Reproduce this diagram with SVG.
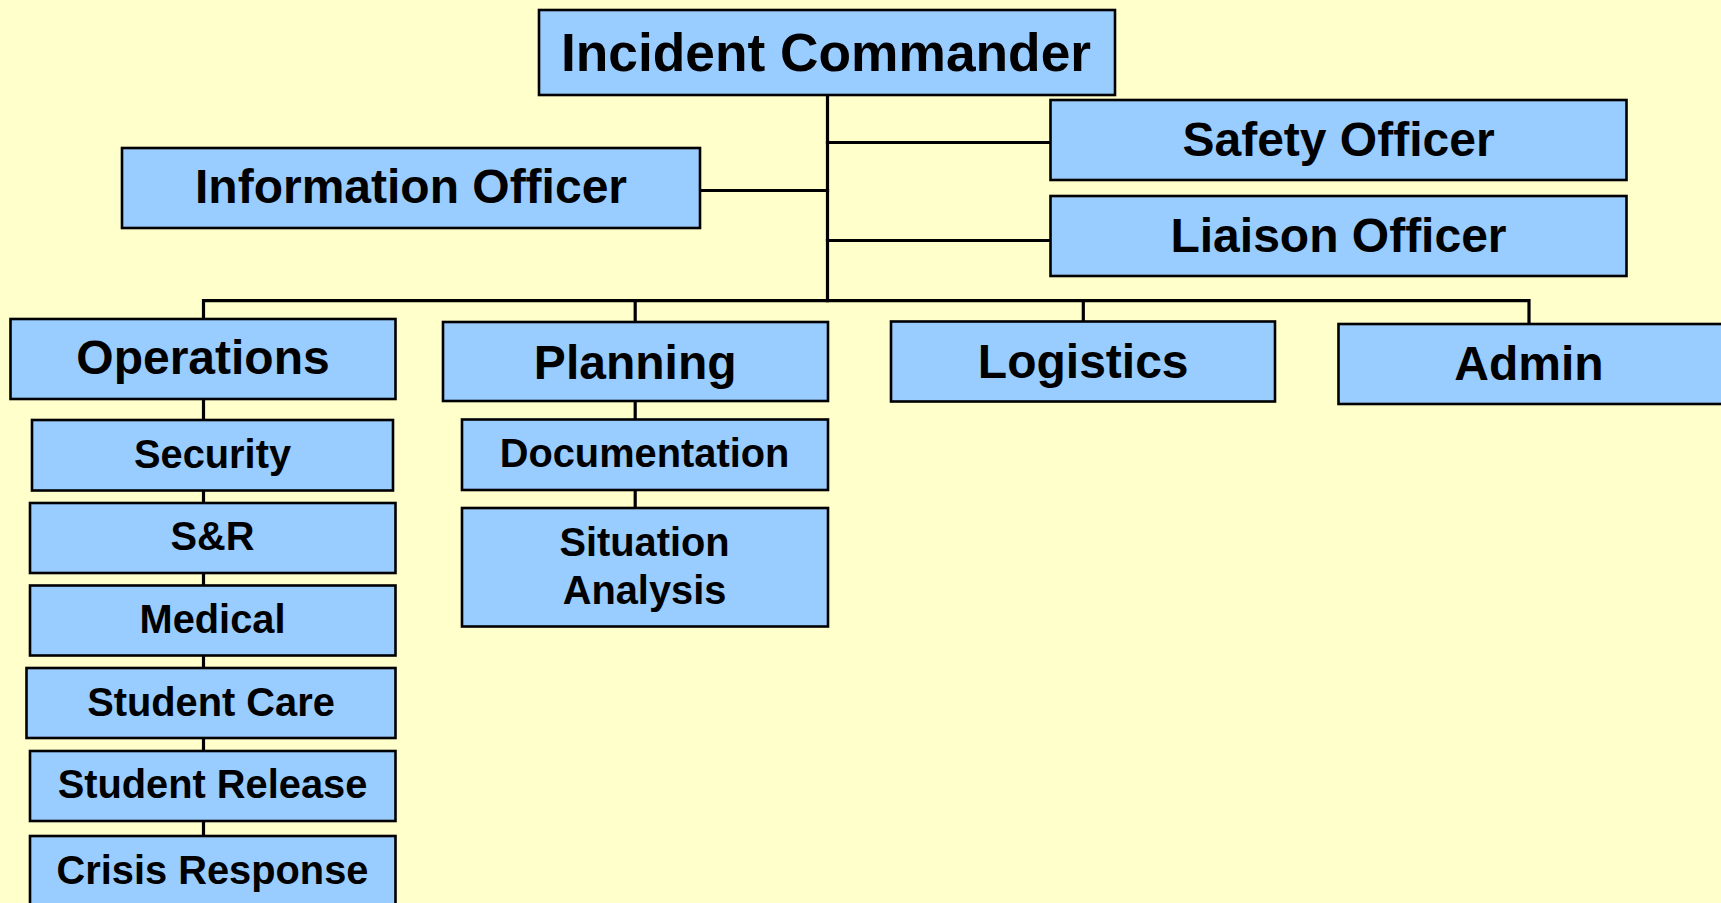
<svg xmlns="http://www.w3.org/2000/svg" width="1721" height="903" viewBox="0 0 1721 903">
<style>
.box{fill:#99CCFF;stroke:#000;stroke-width:2.6}
.ln{stroke:#000;stroke-width:3.2;fill:none;stroke-linecap:square}
text{font-family:"Liberation Sans",Arial,sans-serif;font-weight:bold;fill:#000;text-anchor:middle}
.t1{font-size:53.3px}
.t2{font-size:48px}
.t3{font-size:39.8px}
</style>
<rect width="1721" height="903" fill="#FFFFCC"/>
<g id="connectors">
<path class="ln" d="M827.5 95 V300.7"/>
<path class="ln" d="M827.5 142.5 H1050"/>
<path class="ln" d="M700 190.5 H827.5"/>
<path class="ln" d="M827.5 240.5 H1050"/>
<path class="ln" d="M203.5 319 V300.7 H1529 V324"/>
<path class="ln" d="M635.2 300.7 V322"/>
<path class="ln" d="M1083.3 300.7 V321.5"/>
<path class="ln" d="M203.5 399 V836"/>
<path class="ln" d="M635.2 401 V508"/>
</g>
<g id="incident-commander"><rect class="box" x="539" y="10" width="576" height="85"/><text class="t1" x="826" y="71">Incident Commander</text></g>
<g id="information-officer"><rect class="box" x="122" y="148" width="578" height="80"/><text class="t2" x="411" y="203">Information Officer</text></g>
<g id="safety-officer"><rect class="box" x="1050.5" y="100" width="576" height="80"/><text class="t2" x="1338.5" y="156">Safety Officer</text></g>
<g id="liaison-officer"><rect class="box" x="1050.5" y="196" width="576" height="80"/><text class="t2" x="1338.5" y="251.5">Liaison Officer</text></g>
<g id="operations"><rect class="box" x="10.5" y="319" width="385" height="80"/><text class="t2" x="203" y="374">Operations</text></g>
<g id="planning"><rect class="box" x="443" y="322" width="385" height="79"/><text class="t2" x="635.2" y="378.5">Planning</text></g>
<g id="logistics"><rect class="box" x="891" y="321.5" width="384" height="80"/><text class="t2" x="1083.2" y="378.3">Logistics</text></g>
<g id="admin"><rect class="box" x="1338.5" y="324" width="400" height="80"/><text class="t2" x="1529" y="380">Admin</text></g>
<g id="security"><rect class="box" x="32" y="420" width="361" height="70.5"/><text class="t3" x="212.5" y="467.7">Security</text></g>
<g id="s-and-r"><rect class="box" x="30" y="503" width="365.5" height="70"/><text class="t3" x="212.5" y="550">S&amp;R</text></g>
<g id="medical"><rect class="box" x="30" y="585.5" width="365.5" height="70"/><text class="t3" x="212.5" y="633.3">Medical</text></g>
<g id="student-care"><rect class="box" x="26.5" y="668" width="369" height="70"/><text class="t3" x="211" y="715.7">Student Care</text></g>
<g id="student-release"><rect class="box" x="30" y="751" width="365.5" height="70"/><text class="t3" x="212.5" y="798.3">Student Release</text></g>
<g id="crisis-response"><rect class="box" x="30" y="836" width="365.5" height="80"/><text class="t3" x="212.5" y="884">Crisis Response</text></g>
<g id="documentation"><rect class="box" x="462" y="419.5" width="366" height="70.5"/><text class="t3" x="644.5" y="466.7">Documentation</text></g>
<g id="situation-analysis"><rect class="box" x="462" y="508" width="366" height="118.5"/><text class="t3" x="644.5" y="556">Situation</text><text class="t3" x="644.5" y="604">Analysis</text></g>
</svg>
